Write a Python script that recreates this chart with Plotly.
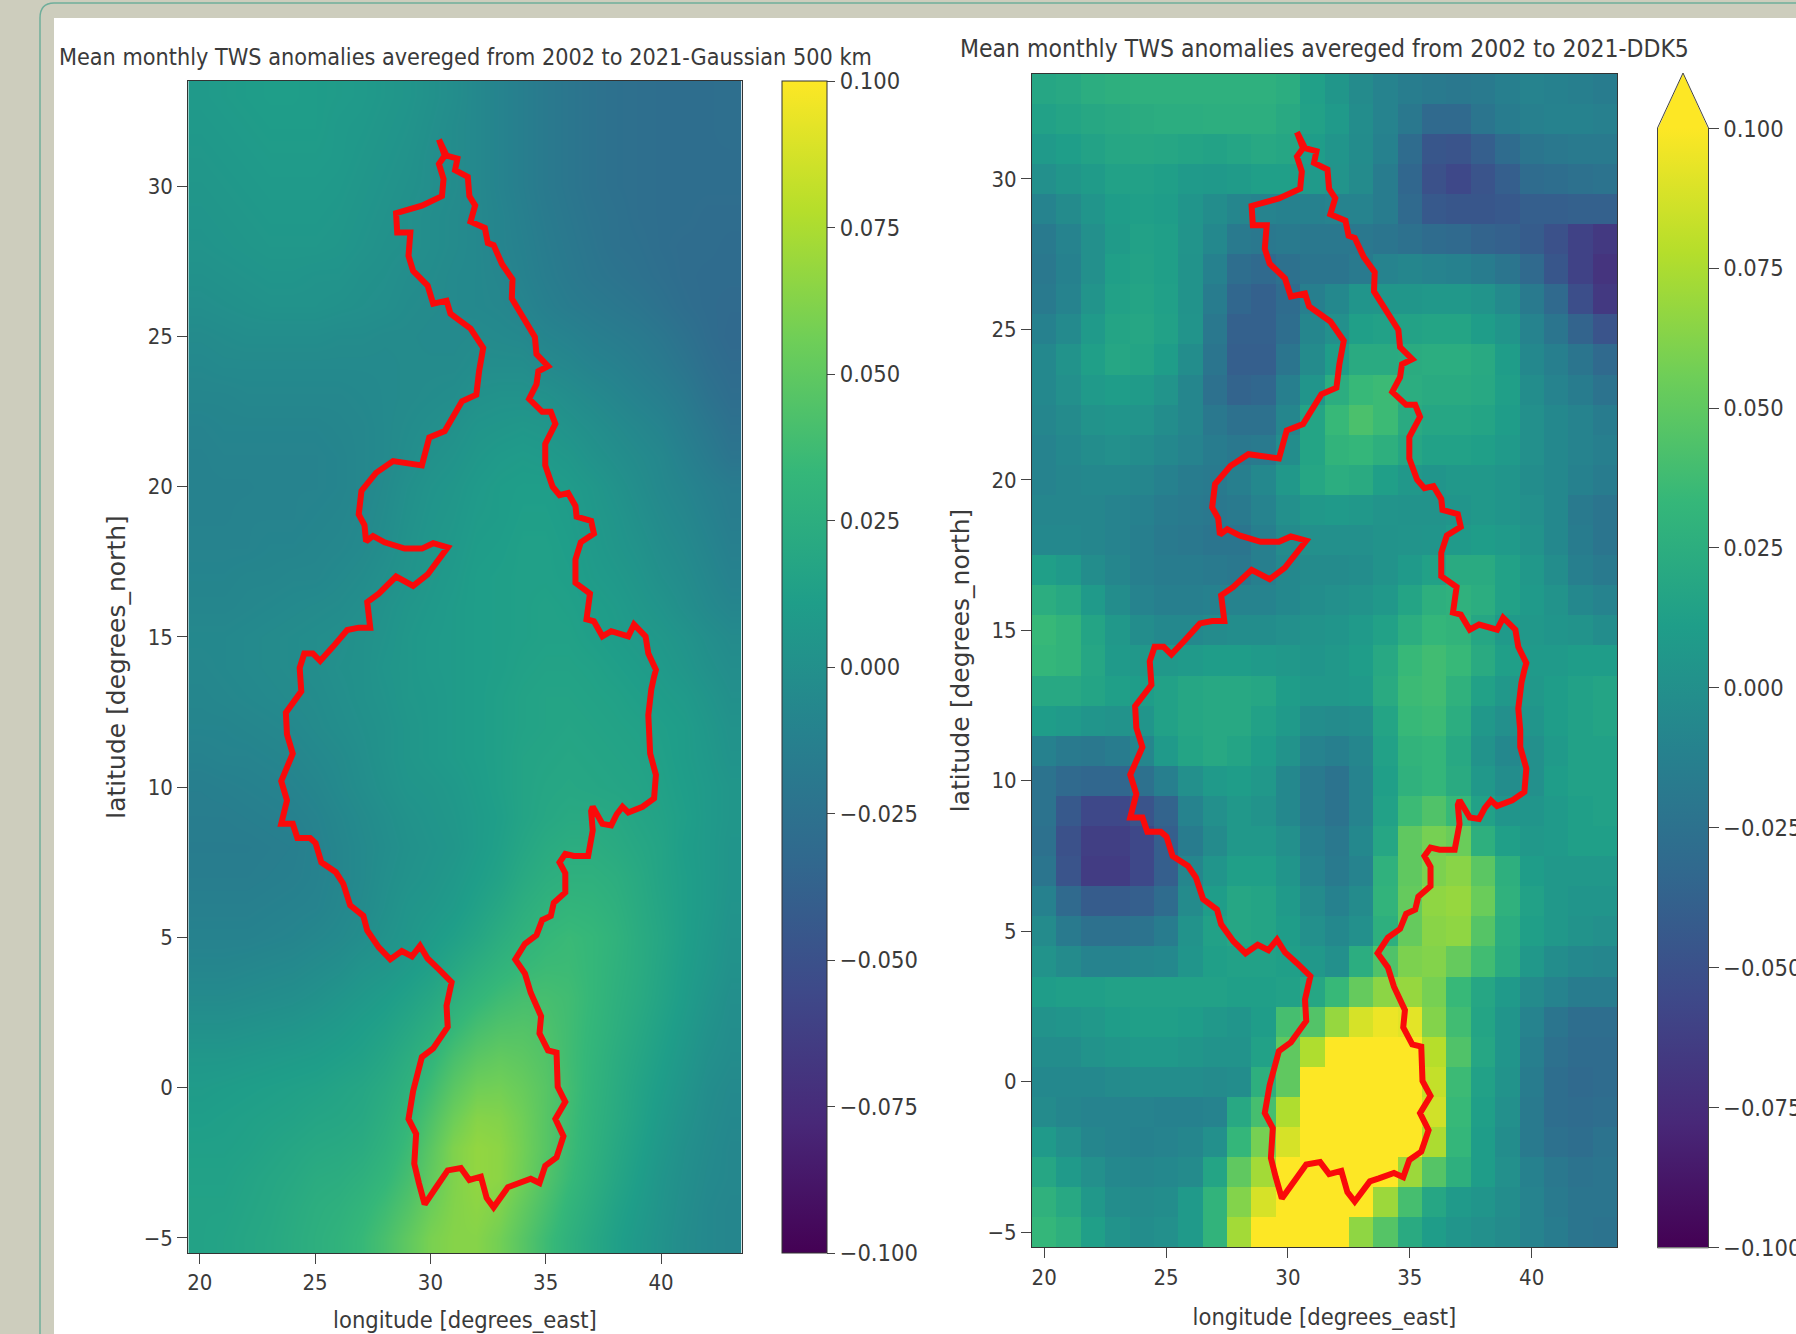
import numpy as np
import plotly.graph_objects as go

W, H = 1796, 1334

lons = list(range(20, 44))
lats = list(range(33, -6, -1))

# Mean monthly TWS anomalies, thousandths, rows north to south
gauss_500 = [
 [8,9,10,11,11,10,9,8,6,4,1,-2,-6,-10,-14,-18,-21,-24,-26,-27,-28,-28,-28,-27],
 [7,8,9,10,10,10,8,7,5,3,0,-3,-6,-10,-14,-18,-21,-24,-26,-27,-28,-28,-28,-27],
 [6,7,8,9,9,9,8,6,4,2,-1,-3,-6,-10,-14,-18,-21,-24,-26,-27,-28,-28,-28,-28],
 [5,6,7,8,8,8,7,5,3,1,-1,-3,-6,-10,-14,-18,-21,-24,-26,-27,-28,-28,-28,-28],
 [4,5,6,7,7,7,6,4,2,0,-2,-4,-6,-9,-13,-17,-20,-23,-25,-27,-28,-28,-29,-29],
 [3,4,5,6,6,6,5,3,1,0,-2,-4,-6,-9,-12,-16,-19,-22,-25,-26,-28,-29,-29,-30],
 [1,2,3,4,4,3,3,1,0,-2,-3,-5,-6,-8,-11,-15,-18,-21,-23,-25,-27,-29,-30,-30],
 [-1,0,1,2,2,2,1,0,-1,-3,-4,-5,-6,-7,-9,-13,-16,-18,-20,-22,-25,-28,-30,-31],
 [-4,-3,-2,-2,-2,-2,-3,-3,-4,-4,-5,-5,-4,-5,-6,-9,-11,-14,-16,-18,-21,-25,-29,-32],
 [-6,-5,-5,-5,-5,-5,-5,-5,-5,-4,-4,-4,-2,-2,-2,-5,-7,-10,-12,-15,-18,-22,-27,-30],
 [-8,-8,-7,-7,-7,-7,-7,-6,-5,-4,-3,-2,1,2,2,1,-2,-5,-8,-11,-14,-18,-24,-28],
 [-10,-9,-9,-9,-9,-9,-8,-7,-5,-3,-1,1,4,5,6,5,2,-1,-4,-7,-10,-15,-20,-25],
 [-11,-10,-10,-10,-10,-10,-9,-7,-5,-2,1,3,6,8,9,8,6,2,-1,-4,-7,-12,-17,-22],
 [-11,-11,-11,-10,-10,-10,-9,-7,-4,0,3,5,8,10,11,11,9,6,2,-2,-6,-9,-13,-16],
 [-11,-11,-10,-10,-10,-9,-8,-6,-3,1,4,6,9,10,12,12,10,7,4,0,-4,-7,-11,-15],
 [-10,-10,-10,-9,-9,-8,-7,-5,-2,2,5,7,10,11,13,13,11,8,5,2,-2,-5,-9,-13],
 [-9,-9,-8,-8,-7,-7,-5,-3,0,3,6,8,11,12,13,13,12,9,7,4,0,-3,-7,-11],
 [-8,-8,-7,-6,-5,-4,-3,-1,2,5,7,9,11,12,13,14,13,11,9,6,3,-1,-5,-8],
 [-6,-6,-5,-4,-3,-2,-1,1,3,6,8,9,11,12,13,14,14,12,10,8,6,3,-1,-4],
 [-7,-6,-5,-4,-3,-2,0,1,4,6,8,9,11,12,14,15,15,14,12,10,8,5,1,-2],
 [-8,-7,-6,-5,-4,-3,-1,1,3,6,7,9,11,13,15,16,16,15,14,12,10,8,4,0],
 [-9,-9,-8,-7,-6,-4,-2,0,2,5,7,9,11,13,15,16,17,16,15,14,12,10,6,2],
 [-11,-10,-10,-9,-8,-6,-4,-1,2,5,7,9,11,13,16,17,18,17,16,15,13,10,7,3],
 [-14,-13,-12,-11,-10,-8,-5,-2,1,4,5,7,10,13,16,18,19,18,17,16,14,11,8,5],
 [-15,-15,-14,-13,-12,-10,-7,-4,-1,2,4,6,9,12,16,19,21,21,20,17,15,12,8,5],
 [-16,-16,-16,-15,-14,-11,-8,-5,-2,1,3,5,9,13,18,22,24,24,22,19,16,11,8,4],
 [-15,-15,-15,-14,-13,-11,-8,-5,-1,2,4,7,11,15,21,25,27,27,25,21,16,12,8,4],
 [-13,-13,-13,-12,-11,-10,-7,-4,0,4,6,9,14,19,25,29,31,30,27,22,17,12,8,3],
 [-11,-11,-11,-10,-9,-7,-5,-2,2,5,9,13,18,24,29,33,35,33,29,23,18,12,7,2],
 [-8,-8,-7,-6,-5,-3,-1,3,5,9,13,19,25,30,34,36,36,33,28,23,17,11,6,1],
 [-4,-4,-3,-2,-1,1,4,7,10,14,19,26,32,37,40,40,38,33,27,22,16,10,4,-1],
 [1,1,2,3,4,6,8,11,14,19,25,33,40,44,45,43,38,32,26,20,14,8,2,-2],
 [6,6,7,8,9,10,12,14,18,24,31,41,48,51,49,45,38,31,24,18,12,6,0,-3],
 [9,10,11,12,13,14,16,18,22,28,37,48,56,57,53,47,39,30,23,16,10,4,-2,-5],
 [11,12,13,14,15,17,18,20,25,32,43,55,63,62,56,47,38,29,22,15,8,2,-3,-6],
 [13,13,14,16,18,20,21,23,28,36,48,61,67,65,57,47,37,28,20,13,6,0,-4,-7],
 [14,14,16,18,20,23,24,27,32,40,51,61,67,65,56,45,35,26,18,11,4,-1,-5,-7],
 [15,15,17,19,22,25,27,31,37,45,55,62,65,61,51,41,31,23,15,9,3,-2,-6,-8],
 [15,16,18,20,23,26,29,34,41,50,59,63,63,57,47,37,28,20,13,7,2,-3,-6,-8],
]

ddk5 = [
 [18,20,24,26,27,27,27,27,27,27,24,13,5,-4,-10,-15,-18,-20,-18,-14,-10,-12,-14,-16],
 [14,16,19,21,23,24,24,25,25,25,21,14,8,-2,-10,-20,-32,-32,-22,-16,-13,-11,-11,-13],
 [8,11,15,18,19,18,16,15,17,20,18,10,4,-3,-12,-30,-46,-48,-40,-30,-22,-20,-18,-18],
 [0,5,9,14,14,12,8,7,9,12,12,8,3,-4,-16,-34,-50,-56,-48,-40,-30,-28,-26,-24],
 [-10,-4,4,10,12,10,4,-2,-8,-10,-12,-12,-10,-10,-16,-32,-44,-46,-46,-44,-40,-40,-38,-38],
 [-18,-10,0,9,14,12,3,-6,-18,-20,-18,-20,-20,-20,-22,-26,-30,-32,-36,-38,-42,-50,-60,-66],
 [-20,-12,0,12,15,12,2,-12,-28,-32,-26,-22,-22,-18,-10,-8,-10,-12,-16,-22,-32,-46,-60,-70],
 [-18,-10,3,14,16,13,2,-16,-34,-38,-30,-14,-6,4,5,5,6,6,3,-5,-18,-32,-52,-66],
 [-12,-5,8,16,18,14,3,-20,-38,-38,-28,-8,0,12,14,15,16,16,10,4,-10,-22,-36,-48],
 [-6,2,12,18,16,10,-2,-22,-40,-40,-22,-4,10,22,22,23,24,24,21,10,-6,-14,-22,-32],
 [-6,0,8,10,9,3,-8,-26,-36,-34,-14,4,24,34,36,24,22,22,20,12,-2,-10,-16,-24],
 [-8,-4,2,4,3,-2,-8,-20,-26,-26,-8,16,34,42,36,22,18,18,16,10,0,-6,-10,-16],
 [-10,-6,-2,0,-2,-6,-10,-16,-20,-18,-2,16,30,32,26,18,14,14,12,8,0,-6,-10,-14],
 [-10,-8,-6,-6,-8,-12,-16,-18,-14,-6,6,18,24,22,12,6,4,6,6,4,-2,-6,-12,-16],
 [-8,-8,-8,-10,-12,-16,-18,-20,-18,-10,0,6,8,6,3,2,2,4,6,4,0,-6,-18,-22],
 [-6,-6,-8,-10,-14,-18,-20,-22,-22,-14,-4,0,0,0,2,3,4,8,10,8,2,-6,-16,-22],
 [12,8,-2,-8,-14,-16,-16,-18,-20,-14,-6,-4,-4,-2,2,8,14,22,22,14,6,-2,-14,-18],
 [24,20,8,-2,-10,-14,-14,-12,-10,-10,-6,-2,0,2,6,16,26,28,24,14,8,2,-6,-10],
 [34,30,16,6,-2,-6,-6,-4,-2,-2,0,2,4,8,14,24,32,30,18,8,6,4,2,-2],
 [32,30,18,8,6,6,8,10,10,8,6,4,6,10,20,34,38,34,22,12,8,8,10,10],
 [20,20,16,12,10,14,18,20,20,18,10,6,6,8,22,36,38,28,14,6,6,10,14,16],
 [10,8,4,2,4,14,18,20,20,14,8,-2,-4,-2,16,34,36,24,6,0,4,10,14,16],
 [-12,-18,-20,-16,-8,8,16,20,16,10,2,-10,-14,-8,14,30,32,20,2,-6,0,8,14,14],
 [-24,-32,-34,-34,-26,-14,0,8,10,6,-6,-18,-24,-10,12,28,32,22,6,-2,0,10,14,14],
 [-24,-44,-56,-56,-48,-36,-10,0,6,2,-6,-18,-24,-10,14,36,44,34,14,4,4,8,12,14],
 [-26,-50,-62,-62,-56,-40,-16,-4,6,6,0,-14,-20,-6,18,50,58,54,26,12,6,8,12,12],
 [-22,-48,-64,-64,-56,-40,-8,4,12,12,4,-10,-18,-10,28,50,60,64,48,26,10,6,6,6],
 [-12,-32,-42,-42,-40,-30,-4,10,18,16,8,-4,-12,-4,30,52,66,68,54,28,14,6,4,4],
 [-4,-18,-26,-26,-24,-16,2,14,18,16,10,0,-6,0,26,52,64,66,46,24,12,6,2,0],
 [2,-4,-10,-10,-8,-6,4,12,14,14,12,6,0,24,44,60,62,52,38,22,6,-2,-6,-8],
 [10,12,12,14,14,14,14,14,12,12,14,18,34,52,65,68,58,34,18,8,-4,-10,-16,-16],
 [2,4,6,10,12,12,10,6,4,10,40,45,68,88,95,92,62,38,16,4,-10,-22,-28,-28],
 [-2,-2,2,5,7,7,5,2,2,14,50,76,105,105,105,105,78,44,18,4,-14,-26,-30,-30],
 [-6,-6,-6,-4,-2,-2,-2,-4,-2,26,50,105,105,105,105,105,82,36,14,2,-16,-28,-32,-30],
 [-4,-8,-10,-10,-10,-12,-12,-10,20,40,76,105,105,105,105,105,86,34,12,0,-18,-28,-30,-28],
 [8,0,-8,-10,-12,-10,-8,0,32,58,88,105,105,105,105,105,75,32,10,-2,-18,-26,-28,-24],
 [18,8,0,-6,-8,-6,-4,16,50,72,100,105,105,105,105,70,46,26,10,0,-12,-20,-24,-22],
 [28,20,6,-2,-4,-2,8,30,62,88,105,105,105,100,70,40,18,8,4,-2,-10,-18,-22,-22],
 [32,26,12,2,-2,0,8,30,72,105,105,105,100,66,46,22,10,4,0,-4,-10,-16,-22,-24],
]

basin_lon = [30.37,30.50,30.70,31.17,31.07,31.62,31.69,31.94,31.74,32.36,32.49,32.74,33.11,33.56,33.53,34.03,34.53,34.60,35.10,34.68,34.60,34.28,34.85,35.22,35.42,34.98,34.98,35.30,35.60,35.97,36.29,36.34,36.97,37.09,36.52,36.29,36.29,36.92,36.77,37.09,37.46,37.84,38.58,38.83,39.33,39.45,39.78,39.70,39.58,39.45,39.53,39.53,39.78,39.70,39.20,38.58,38.33,38.08,37.84,37.46,37.04,36.97,37.04,36.84,36.22,35.85,35.60,35.85,35.85,35.35,35.22,34.85,34.60,34.10,33.68,34.10,34.35,34.80,34.73,35.10,35.47,35.52,35.85,35.42,35.77,35.47,34.98,34.73,34.35,33.73,33.36,32.74,32.44,32.19,31.69,31.32,30.75,30.25,29.75,29.50,29.30,29.38,29.05,29.25,29.63,30.12,30.75,30.70,30.92,30.37,29.88,29.55,29.20,28.76,28.26,27.76,27.26,27.09,26.52,26.22,25.90,25.27,25.02,24.78,24.23,24.03,23.53,23.78,23.53,24.03,23.78,23.73,24.40,24.33,24.53,24.90,25.22,25.77,26.39,26.89,27.39,27.26,27.76,28.51,29.25,29.88,30.75,30.12,29.63,28.88,28.01,27.51,27.21,27.14,26.89,27.01,27.64,28.38,29.63,29.95,30.62,31.37,31.99,32.11,32.29,31.74,30.87,30.70,30.12,29.88,29.25,29.05,29.13,28.56,28.51,29.63,30.50,30.57,30.37,30.62,30.37]
basin_lat = [31.55,31.31,31.02,30.92,30.53,30.31,29.67,29.36,28.82,28.61,28.11,28.04,27.40,26.90,26.26,25.62,24.98,24.41,24.01,23.84,23.41,22.92,22.49,22.49,22.09,21.42,20.71,20.00,19.72,19.79,19.36,19.00,18.86,18.44,18.15,17.58,16.80,16.44,15.59,15.52,15.02,15.19,15.02,15.42,15.02,14.45,13.91,13.68,13.26,12.40,11.69,11.12,10.41,9.63,9.35,9.16,9.35,9.10,8.73,8.78,9.35,9.20,8.56,7.71,7.71,7.78,7.50,7.14,6.50,6.15,5.72,5.58,5.08,4.79,4.27,3.80,3.16,2.38,1.81,1.24,1.17,0.03,-0.47,-1.04,-1.61,-2.32,-2.60,-3.17,-3.03,-3.21,-3.31,-3.98,-3.67,-2.96,-3.07,-2.67,-2.75,-3.31,-3.88,-3.17,-2.53,-1.54,-1.04,-0.11,1.02,1.31,2.02,2.73,3.51,3.94,4.30,4.72,4.37,4.55,4.27,4.67,5.23,5.72,6.07,6.79,7.17,7.50,8.14,8.31,8.31,8.78,8.78,9.56,10.20,11.12,11.76,12.48,13.19,13.97,14.45,14.45,14.20,14.67,15.23,15.31,15.31,16.16,16.44,17.01,16.70,17.08,17.98,18.12,17.94,17.94,18.15,18.36,18.18,18.72,19.08,19.86,20.46,20.85,20.71,21.64,21.85,22.84,23.06,23.84,24.62,25.26,25.76,26.19,26.09,26.69,27.18,27.68,28.46,28.46,29.10,29.35,29.67,30.24,30.74,31.02,31.55]

lon_ticks = [20, 25, 30, 35, 40]
lat_ticks = [-5, 0, 5, 10, 15, 20, 25, 30]
bar_ticks = [-0.1, -0.075, -0.05, -0.025, 0.0, 0.025, 0.05, 0.075, 0.1]

title_left = "Mean monthly TWS anomalies avereged from 2002 to 2021-Gaussian 500 km"
title_right = "Mean monthly TWS anomalies avereged from 2002 to 2021-DDK5"
x_title = "longitude [degrees_east]"
y_title = "latitude [degrees_north]"

TEXT = "#3a3a3a"
NARROW = "DejaVu Sans Condensed, DejaVu Sans"


def px(x):
    return x / W


def py(y):
    return 1 - y / H


fig = go.Figure()


def panel(values, ax, box, bar, bar_size, smooth, outline, bar_ticklen, x_standoff):
    left, right, top, bottom = box
    suffix = "" if ax == 1 else str(ax)
    fig.add_trace(go.Heatmap(
        x=lons, y=lats, z=(np.array(values) / 1000).tolist(),
        colorscale="Viridis", zmin=-0.1, zmax=0.1, zsmooth=smooth,
        xaxis=f"x{suffix}", yaxis=f"y{suffix}",
        hoverinfo="skip",
        colorbar=dict(
            x=px(bar[0]), xanchor="left", xref="paper", xpad=0,
            y=py(bar[2]), yanchor="bottom", yref="paper", ypad=0,
            len=(bar[2] - bar[1]) / H, lenmode="fraction",
            thickness=bar_size, thicknessmode="pixels",
            tickmode="array", tickvals=bar_ticks,
            ticktext=[("\u2212" if v < 0 else "") + f"{abs(v):.3f}" for v in bar_ticks],
            ticks="outside", ticklen=bar_ticklen, tickcolor="#444", tickwidth=1.2,
            tickfont=dict(family=NARROW, size=23.5, color=TEXT),
            outlinecolor="#333", outlinewidth=outline,
        ),
    ))
    fig.add_trace(go.Scatter(
        x=basin_lon, y=basin_lat, mode="lines",
        line=dict(color="#fa0a0a", width=6),
        xaxis=f"x{suffix}", yaxis=f"y{suffix}",
        showlegend=False, hoverinfo="skip",
    ))
    common = dict(showgrid=False, zeroline=False, showline=True, linecolor="#333",
                  linewidth=1, mirror=True, ticks="outside", ticklen=10,
                  tickcolor="#444", tickfont=dict(family=NARROW, size=22, color=TEXT))
    fig.update_layout({
        f"xaxis{suffix}": dict(common, domain=[px(left), px(right)], range=[19.5, 43.5],
                               tickvals=lon_ticks, anchor=f"y{suffix}",
                               title=dict(text=x_title, standoff=x_standoff,
                                          font=dict(family=NARROW, size=23.5, color=TEXT))),
        f"yaxis{suffix}": dict(common, domain=[py(bottom), py(top)], range=[-5.5, 33.5],
                               tickvals=lat_ticks, anchor=f"x{suffix}",
                               title=dict(text=y_title, standoff=10,
                                          font=dict(family="DejaVu Sans", size=25, color=TEXT))),
    })


panel(gauss_500, 1, (188.3, 741.7, 81, 1253), (782, 81, 1253), 45, "best", 1, 8, 17)
panel(ddk5, 2, (1032, 1617, 73.5, 1247.3), (1658, 128, 1247.3), 50, False, 0, 11, 19)

frame = (f"M {px(40)} {py(1340)} L {px(40)} {py(18)} Q {px(40)} {py(3)} {px(54)} {py(3)} "
         f"L {px(1800)} {py(3)}")
arrow = (f"M {px(1658)} {py(128.5)} L {px(1683)} {py(73.5)} L {px(1708)} {py(128.5)} Z")
bar_edge = (f"M {px(1657.5)} {py(1247.8)} L {px(1657.5)} {py(128)} L {px(1683)} {py(73)} "
            f"L {px(1708.5)} {py(128)} L {px(1708.5)} {py(1247.8)} Z")

fig.update_layout(
    width=W, height=H,
    margin=dict(l=0, r=0, t=0, b=0, autoexpand=False),
    paper_bgcolor="#cdcdbd", plot_bgcolor="white",
    showlegend=False,
    shapes=[
        dict(type="rect", xref="paper", yref="paper", x0=px(54), x1=1.01, y0=-0.01, y1=py(18),
             fillcolor="white", line_width=0, layer="below"),
        dict(type="path", xref="paper", yref="paper", path=frame,
             line=dict(color="#6fae9b", width=1.5), layer="below"),
        dict(type="path", xref="paper", yref="paper", path=arrow,
             fillcolor="#fde725", line_width=0, layer="above"),
        dict(type="path", xref="paper", yref="paper", path=bar_edge,
             line=dict(color="#444", width=1), layer="above"),
    ],
    annotations=[
        dict(text=title_left, xref="paper", yref="paper", x=px(57), y=py(57),
             xanchor="left", yanchor="middle", showarrow=False,
             font=dict(family=NARROW, size=23.2, color=TEXT)),
        dict(text=title_right, xref="paper", yref="paper", x=px(958), y=py(48),
             xanchor="left", yanchor="middle", showarrow=False,
             font=dict(family=NARROW, size=24.5, color=TEXT)),
    ],
)

fig.write_html("out.html", post_script="document.body.style.margin='0';",
               config={"displayModeBar": False})
